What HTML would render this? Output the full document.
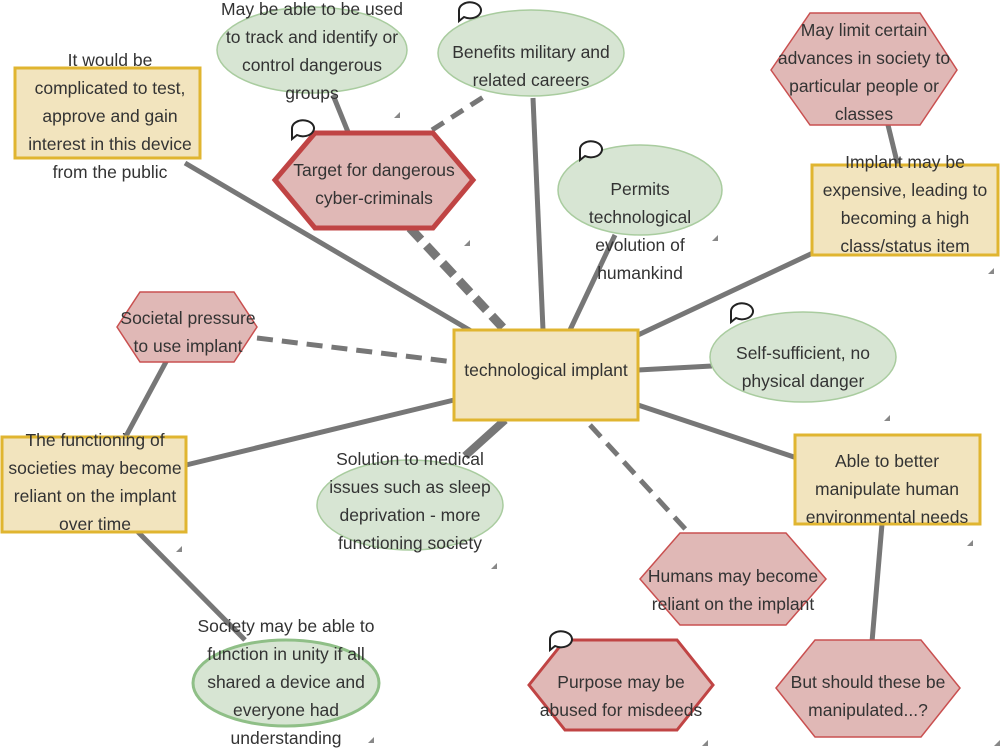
<!DOCTYPE html>
<html><head><meta charset="utf-8"><style>
html,body{margin:0;padding:0;background:#fff;width:1000px;height:750px;overflow:hidden}
text{font-family:"Liberation Sans",sans-serif;font-size:17.5px;fill:#333;text-anchor:middle}
</style></head><body>
<svg width="1000" height="750" xmlns="http://www.w3.org/2000/svg">
<g stroke="#777" stroke-width="5" fill="none">
<line x1="546" y1="375" x2="185" y2="163"/>
<line x1="543" y1="330" x2="533" y2="98"/>
<line x1="570" y1="330" x2="615" y2="235"/>
<line x1="638" y1="335" x2="815" y2="252"/>
<line x1="638" y1="370" x2="712" y2="366"/>
<line x1="638" y1="405" x2="797" y2="458"/>
<line x1="454" y1="400" x2="186" y2="465"/>
<line x1="505" y1="420" x2="465" y2="456" stroke-width="8"/>
<line x1="333" y1="95" x2="348" y2="132"/>
<line x1="888" y1="125" x2="898" y2="166"/>
<line x1="167" y1="360" x2="125" y2="438"/>
<line x1="138" y1="532" x2="245" y2="640"/>
<line x1="882" y1="524" x2="872" y2="642"/>
<line x1="432" y1="130" x2="485" y2="96" stroke-dasharray="14,9"/>
<line x1="410" y1="228" x2="505" y2="330" stroke-width="9" stroke-dasharray="16,8"/>
<line x1="257" y1="338" x2="454" y2="362" stroke-dasharray="16,9"/>
<line x1="590" y1="425" x2="688" y2="532" stroke-dasharray="16,9"/>
</g>
<g fill="#f2e4be" stroke="#e0b530" stroke-width="3">
<rect x="454" y="330" width="184" height="90"/>
<rect x="15" y="68" width="185" height="90"/>
<rect x="812" y="165" width="186" height="90"/>
<rect x="2" y="437" width="184" height="95"/>
<rect x="795" y="435" width="185" height="89"/>
</g>
<g fill="#d7e5d3" stroke="#a9cc9f" stroke-width="1.5">
<ellipse cx="312" cy="50" rx="95" ry="43"/>
<ellipse cx="531" cy="53" rx="93" ry="43"/>
<ellipse cx="640" cy="190" rx="82" ry="45"/>
<ellipse cx="803" cy="357" rx="93" ry="45"/>
<ellipse cx="410" cy="505" rx="93" ry="45"/>
<ellipse cx="286" cy="683" rx="93" ry="43" stroke="#8fbf87" stroke-width="3"/>
</g>
<g fill="#e0b8b6" stroke="#c95050" stroke-width="1.5">
<polygon points="275,180 315,133 433,133 473,180 433,228 315,228" stroke="#c04444" stroke-width="5"/>
<polygon points="771,70 810,13 920,13 957,70 920,125 810,125"/>
<polygon points="117,327 140,292 234,292 257,327 234,362 140,362"/>
<polygon points="640,579 680,533 786,533 826,579 786,625 680,625"/>
<polygon points="529,685 565,640 677,640 713,685 677,730 565,730" stroke="#c04444" stroke-width="3"/>
<polygon points="776,688 815,640 921,640 960,688 921,737 815,737"/>
</g>
<text x="546" y="376">technological implant</text>
<text x="110" y="66">It would be</text><text x="110" y="94">complicated to test,</text><text x="110" y="122">approve and gain</text><text x="110" y="150">interest in this device</text><text x="110" y="178">from the public</text>
<text x="312" y="15">May be able to be used</text><text x="312" y="43">to track and identify or</text><text x="312" y="71">control dangerous</text><text x="312" y="99">groups</text>
<text x="531" y="58">Benefits military and</text><text x="531" y="86">related careers</text>
<text x="374" y="176">Target for dangerous</text><text x="374" y="204">cyber-criminals</text>
<text x="864" y="36">May limit certain</text><text x="864" y="64">advances in society to</text><text x="864" y="92">particular people or</text><text x="864" y="120">classes</text>
<text x="640" y="195">Permits</text><text x="640" y="223">technological</text><text x="640" y="251">evolution of</text><text x="640" y="279">humankind</text>
<text x="905" y="168">Implant may be</text><text x="905" y="196">expensive, leading to</text><text x="905" y="224">becoming a high</text><text x="905" y="252">class/status item</text>
<text x="188" y="324">Societal pressure</text><text x="188" y="352">to use implant</text>
<text x="803" y="359">Self-sufficient, no</text><text x="803" y="387">physical danger</text>
<text x="95" y="446">The functioning of</text><text x="95" y="474">societies may become</text><text x="95" y="502">reliant on the implant</text><text x="95" y="530">over time</text>
<text x="410" y="465">Solution to medical</text><text x="410" y="493">issues such as sleep</text><text x="410" y="521">deprivation - more</text><text x="410" y="549">functioning society</text>
<text x="887" y="467">Able to better</text><text x="887" y="495">manipulate human</text><text x="887" y="523">environmental needs</text>
<text x="733" y="582">Humans may become</text><text x="733" y="610">reliant on the implant</text>
<text x="286" y="632">Society may be able to</text><text x="286" y="660">function in unity if all</text><text x="286" y="688">shared a device and</text><text x="286" y="716">everyone had</text><text x="286" y="744">understanding</text>
<text x="621" y="688">Purpose may be</text><text x="621" y="716">abused for misdeeds</text>
<text x="868" y="688">But should these be</text><text x="868" y="716">manipulated...?</text>
<g fill="#fff" stroke="#222" stroke-width="2">
<path d="M459,10 a11,8 0 1 1 5,7 l-5,4 z"/><path d="M292,128 a11,8 0 1 1 5,7 l-5,4 z"/><path d="M580,149 a11,8 0 1 1 5,7 l-5,4 z"/><path d="M731,311 a11,8 0 1 1 5,7 l-5,4 z"/><path d="M550,639 a11,8 0 1 1 5,7 l-5,4 z"/>
</g>
<g fill="#888">
<polygon points="400,112 394,118 400,118"/><polygon points="470,240 464,246 470,246"/><polygon points="718,235 712,241 718,241"/><polygon points="994,268 988,274 994,274"/><polygon points="890,415 884,421 890,421"/><polygon points="973,540 967,546 973,546"/><polygon points="182,546 176,552 182,552"/><polygon points="497,563 491,569 497,569"/><polygon points="374,737 368,743 374,743"/><polygon points="708,740 702,746 708,746"/><polygon points="1000,740 994,746 1000,746"/>
</g>
</svg>
</body></html>
